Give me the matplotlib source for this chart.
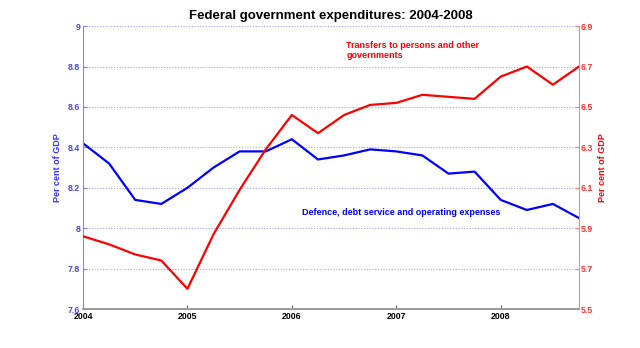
import matplotlib.pyplot as plt

plt.rcParams['font.family'] = ['Liberation Sans', 'DejaVu Sans']

# quarterly, 2004Q1 .. 2008Q4
quarters = [2004 + 0.25 * i for i in range(20)]

# left axis: defence, debt service and operating expenses (% of GDP)
defence = [8.42, 8.32, 8.14, 8.12, 8.20, 8.30, 8.38, 8.38, 8.44, 8.34,
           8.36, 8.39, 8.38, 8.36, 8.27, 8.28, 8.14, 8.09, 8.12, 8.05]

# right axis: transfers to persons and other governments (% of GDP)
transfers = [5.86, 5.82, 5.77, 5.74, 5.60, 5.87, 6.09, 6.29, 6.46, 6.37,
             6.46, 6.51, 6.52, 6.56, 6.55, 6.54, 6.65, 6.70, 6.61, 6.70]

year_ticks = [2004, 2005, 2006, 2007, 2008]
left_ticks = [7.6, 7.8, 8.0, 8.2, 8.4, 8.6, 8.8, 9.0]
left_labels = ['7.6', '7.8', '8', '8.2', '8.4', '8.6', '8.8', '9']
right_ticks = [5.5, 5.7, 5.9, 6.1, 6.3, 6.5, 6.7, 6.9]

BLUE = '#0000ff'
RED = '#ff0000'

fig = plt.figure(figsize=(6.4, 3.48), dpi=100)
ax = fig.add_axes([0.1297, 0.112, 0.775, 0.813])
ax2 = ax.twinx()

ax.plot(quarters, defence, color=BLUE, lw=1.6)
ax2.plot(quarters, transfers, color=RED, lw=1.6)

ax.set_xlim(2004, 2008.75)
ax.set_ylim(7.6, 9.0)
ax2.set_ylim(5.5, 6.9)

ax.set_xticks(year_ticks)
ax.set_xticklabels([str(y) for y in year_ticks], fontsize=6.3, fontweight='bold')
ax.set_yticks(left_ticks)
ax.set_yticklabels(left_labels, fontsize=6.3, fontweight='bold', color='#4444ff')
ax2.set_yticks(right_ticks)
ax2.set_yticklabels([f'{v:.1f}' for v in right_ticks], fontsize=6.3,
                    fontweight='bold', color='#ff3333')

ax.tick_params(axis='x', direction='in', length=3, pad=2, color='#666666')
ax.tick_params(axis='y', direction='in', length=3, pad=2, color='#8080ff')
ax2.tick_params(axis='y', direction='in', length=3, pad=1, color='#ff8080')

ax.yaxis.grid(True, linestyle=(0, (1, 1.5)), color='#a0a0ff', lw=0.8)

for a in (ax, ax2):
    a.spines['top'].set_visible(False)
    a.spines['bottom'].set_color('#999999')
    a.spines['bottom'].set_linewidth(1.2)
ax.spines['left'].set_color('#8080ff')
ax.spines['right'].set_visible(False)
ax2.spines['left'].set_visible(False)
ax2.spines['right'].set_color('#ff8080')

ax.set_ylabel('Per cent of GDP', color='#3333ff', fontsize=6.5,
              fontweight='bold', labelpad=4)
ax2.set_ylabel('Per cent of GDP', color=RED, fontsize=6.5,
               fontweight='bold', labelpad=4)

ax.set_title('Federal government expenditures: 2004-2008', fontsize=9.5,
             fontweight='bold', pad=5)

ax2.text(2006.52, 6.825, 'Transfers to persons and other\ngovernments', color=RED,
         fontsize=6.5, fontweight='bold', va='top', linespacing=1.1)
ax.text(2006.1, 8.08, 'Defence, debt service and operating expenses', color=BLUE,
        fontsize=6.5, fontweight='bold', va='center')

fig.savefig('out.png', dpi=100)
